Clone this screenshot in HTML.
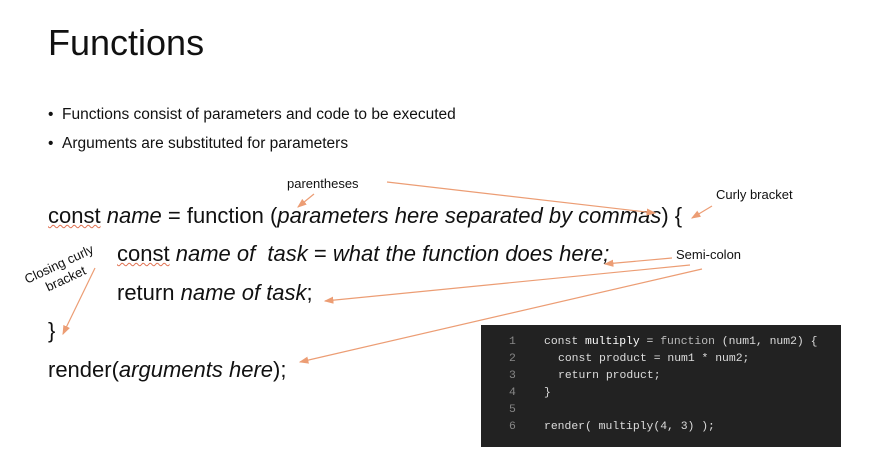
<!DOCTYPE html>
<html><head><meta charset="utf-8"><style>
body{margin:0;width:880px;height:469px;background:#fff;overflow:hidden;position:relative;font-family:"Liberation Sans",sans-serif;color:#111}
.a{position:absolute;white-space:nowrap}
.t{font-size:36px;left:48px;top:22px}
.b{font-size:15.5px;left:48px}
.c{font-size:22px}
i{font-style:italic}
.sq{text-decoration:underline wavy #e07050;text-decoration-thickness:1px}
.l{font-size:13px}
.code{position:absolute;left:481px;top:325px;width:360px;height:122px;background:#222;font-family:"Liberation Mono",monospace;font-size:11.4px;color:#ddd}
.code div{position:absolute;white-space:pre}
.n{color:#888;left:28px}
</style></head><body>
<div class="a t">Functions</div>
<div class="a b" style="top:106px">•&nbsp;&nbsp;Functions consist of parameters and code to be executed</div>
<div class="a b" style="top:135px">•&nbsp;&nbsp;Arguments are substituted for parameters</div>
<div class="a c" style="left:48px;top:203px"><span class="sq">const</span> <i>name</i> = function (<i>parameters here separated by commas</i>) {</div>
<div class="a c" style="left:117px;top:241px"><span class="sq">const</span> <i>name of&nbsp; task</i> = <i>what the function does here;</i></div>
<div class="a c" style="left:117px;top:280px">return <i>name of task</i>;</div>
<div class="a c" style="left:48px;top:318px">}</div>
<div class="a c" style="left:48px;top:357px">render(<i>arguments here</i>);</div>
<div class="a l" style="left:287px;top:176px">parentheses</div>
<div class="a l" style="left:716px;top:187px">Curly bracket</div>
<div class="a l" style="left:676px;top:247px">Semi-colon</div>
<div class="a l" style="left:22px;top:273px;transform:rotate(-25deg);transform-origin:left top;text-align:center;line-height:16px">Closing curly<br>bracket</div>
<svg width="880" height="469" style="position:absolute;left:0;top:0">
<defs><marker id="m" markerWidth="8" markerHeight="8" refX="7" refY="4" orient="auto"><path d="M0,1 L8,4 L0,7z" fill="#ec9d74"/></marker></defs>
<g stroke="#ec9d74" stroke-width="1.2" marker-end="url(#m)">
<line x1="387" y1="182" x2="655" y2="213"/>
<line x1="314" y1="194" x2="298" y2="207"/>
<line x1="712" y1="206" x2="692" y2="218"/>
<line x1="672" y1="258" x2="605" y2="264"/>
<line x1="690" y1="265" x2="325" y2="301"/>
<line x1="702" y1="269" x2="300" y2="362"/>
<line x1="95" y1="268" x2="63" y2="334"/>
</g></svg>
<div class="code">
<div class="n" style="top:11px">1</div><div style="left:63px;top:11px">const <b style="color:#fff;font-weight:normal">multiply</b> = <span style="color:#bbb">function</span> (num1, num2) {</div>
<div class="n" style="top:28px">2</div><div style="left:77px;top:28px">const product = num1 * num2;</div>
<div class="n" style="top:45px">3</div><div style="left:77px;top:45px">return product;</div>
<div class="n" style="top:62px">4</div><div style="left:63px;top:62px">}</div>
<div class="n" style="top:79px">5</div>
<div class="n" style="top:96px">6</div><div style="left:63px;top:96px">render( multiply(4, 3) );</div>
</div>
</body></html>
